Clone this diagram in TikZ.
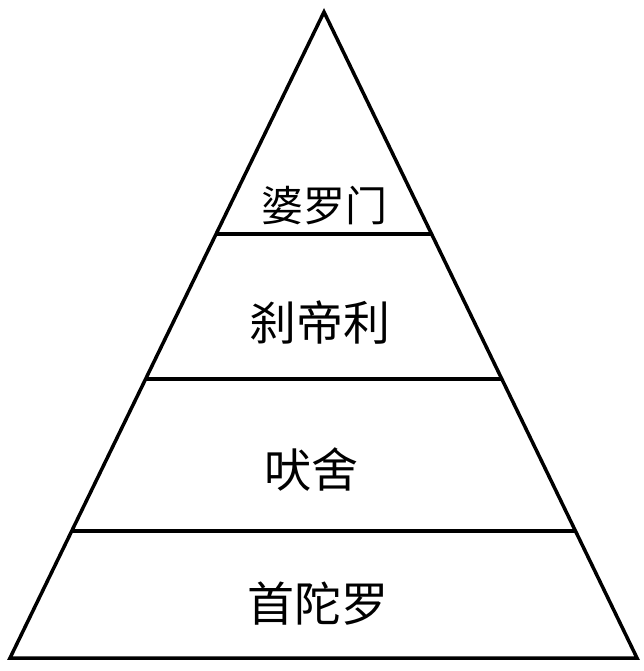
\documentclass[tikz,border=0pt]{standalone}
\usepackage{fontspec}
\newfontfamily\cjk{Noto Sans CJK SC}
\usetikzlibrary{calc}
\begin{document}
\begin{tikzpicture}[x=1pt,y=-1pt,
  edge/.style={line width=3.5pt,line join=miter},
  sep/.style={line width=3.5pt},
  lbl/.style={font=\cjk\fontsize{47}{50}\selectfont,inner sep=0pt}]
\useasboundingbox (0,0) rectangle (643,671);
\coordinate (A) at (324,12);
\coordinate (L) at (10,658);
\coordinate (R) at (637,658);
\draw[edge] (A) -- (L) -- (R) -- cycle;
\foreach \t/\n in {0.3437/a,0.5681/b,0.8034/c}{
  \coordinate (l\n) at ($(A)!\t!(L)$);
  \coordinate (r\n) at ($(A)!\t!(R)$);
  \draw[sep] (l\n) -- (r\n);
}
\node[lbl,font=\cjk\fontsize{42}{46}\selectfont] (t1) at (324,206) {婆罗门};
\node[lbl] (t2) at (320,323) {刹帝利};
\node[lbl] (t3) at (311,470) {吠舍};
\node[lbl] (t4) at (318,604) {首陀罗};
\end{tikzpicture}
\end{document}
